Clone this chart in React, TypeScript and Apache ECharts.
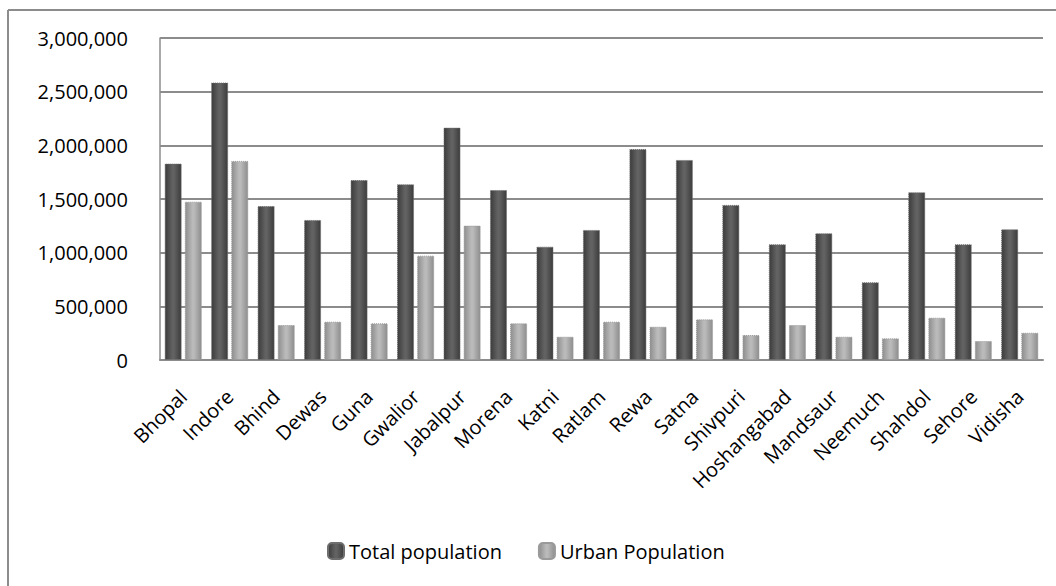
import React, { useEffect, useRef } from "react";
import * as echarts from "echarts";

const districts = [
  "Bhopal", "Indore", "Bhind", "Dewas", "Guna", "Gwalior", "Jabalpur", "Morena", "Katni", "Ratlam",
  "Rewa", "Satna", "Shivpuri", "Hoshangabad", "Mandsaur", "Neemuch", "Shahdol", "Sehore", "Vidisha",
];
const totalPopulation = [
  1830000, 2585000, 1435000, 1305000, 1677000, 1637000, 2165000, 1584000, 1056000, 1212000,
  1966000, 1864000, 1445000, 1078000, 1181000, 724000, 1563000, 1078000, 1218000,
];
const urbanPopulation = [
  1475000, 1855000, 326000, 357000, 342000, 972000, 1252000, 342000, 217000, 357000,
  310000, 379000, 233000, 326000, 217000, 202000, 394000, 177000, 254000,
];
const seriesNames = ["Total population", "Urban Population"];

const FONT = "'Open Sans', sans-serif";

function cyl(edge: string, mid: string) {
  return new echarts.graphic.LinearGradient(0, 0, 1, 0, [
    { offset: 0, color: edge },
    { offset: 0.45, color: mid },
    { offset: 0.55, color: mid },
    { offset: 1, color: edge },
  ]);
}

export default function App() {
  const ref = useRef<HTMLDivElement>(null);
  useEffect(() => {
    if (!ref.current) return;
    const chart = echarts.init(ref.current, null, { renderer: "svg" });
    chart.setOption({
      animation: false,
      backgroundColor: "#ffffff",
      textStyle: { fontFamily: FONT },
      graphic: [
        { type: "line", shape: { x1: 8, y1: 10, x2: 1056, y2: 10 }, style: { stroke: "#8c8c8c", lineWidth: 2 } },
        { type: "line", shape: { x1: 8, y1: 10, x2: 8, y2: 586 }, style: { stroke: "#8c8c8c", lineWidth: 2 } },
      ],
      grid: { left: 160, right: 13, top: 38, bottom: 226, containLabel: false },
      legend: {
        data: seriesNames,
        bottom: 20,
        left: 322,
        itemWidth: 16,
        itemHeight: 16,
        itemGap: 36,
        textStyle: { fontFamily: FONT, fontSize: 20, color: "#000" },
      },
      xAxis: {
        type: "category",
        data: districts,
        axisLine: { lineStyle: { color: "#8c8c8c", width: 2 } },
        axisTick: { show: false },
        axisLabel: {
          interval: 0,
          rotate: 45,
          margin: 33,
          fontFamily: FONT,
          fontSize: 20,
          color: "#000",
        },
      },
      yAxis: {
        type: "value",
        min: 0,
        max: 3000000,
        interval: 500000,
        axisLine: { show: true, lineStyle: { color: "#8c8c8c", width: 1.5 } },
        axisTick: { show: false },
        splitLine: { lineStyle: { color: "#8c8c8c", width: 2 } },
        axisLabel: {
          margin: 32,
          fontFamily: FONT,
          fontSize: 20,
          color: "#000",
          formatter: (v: number) => v.toLocaleString("en-US"),
        },
      },
      series: [
        {
          name: seriesNames[0],
          type: "bar",
          data: totalPopulation,
          barGap: "18%",
          barCategoryGap: "20%",
          itemStyle: { color: cyl("#3c3c3c", "#626262"), borderColor: "#6e6e6e", borderWidth: 1, borderType: "dotted" },
        },
        {
          name: seriesNames[1],
          type: "bar",
          data: urbanPopulation,
          barGap: "18%",
          barCategoryGap: "20%",
          itemStyle: { color: cyl("#8e8e8e", "#bababa"), borderColor: "#9a9a9a", borderWidth: 1, borderType: "dotted" },
        },
      ],
    });
    return () => chart.dispose();
  }, []);
  return <div ref={ref} style={{ position: "fixed", left: 0, top: 0, width: 1056, height: 586 }} />;
}
